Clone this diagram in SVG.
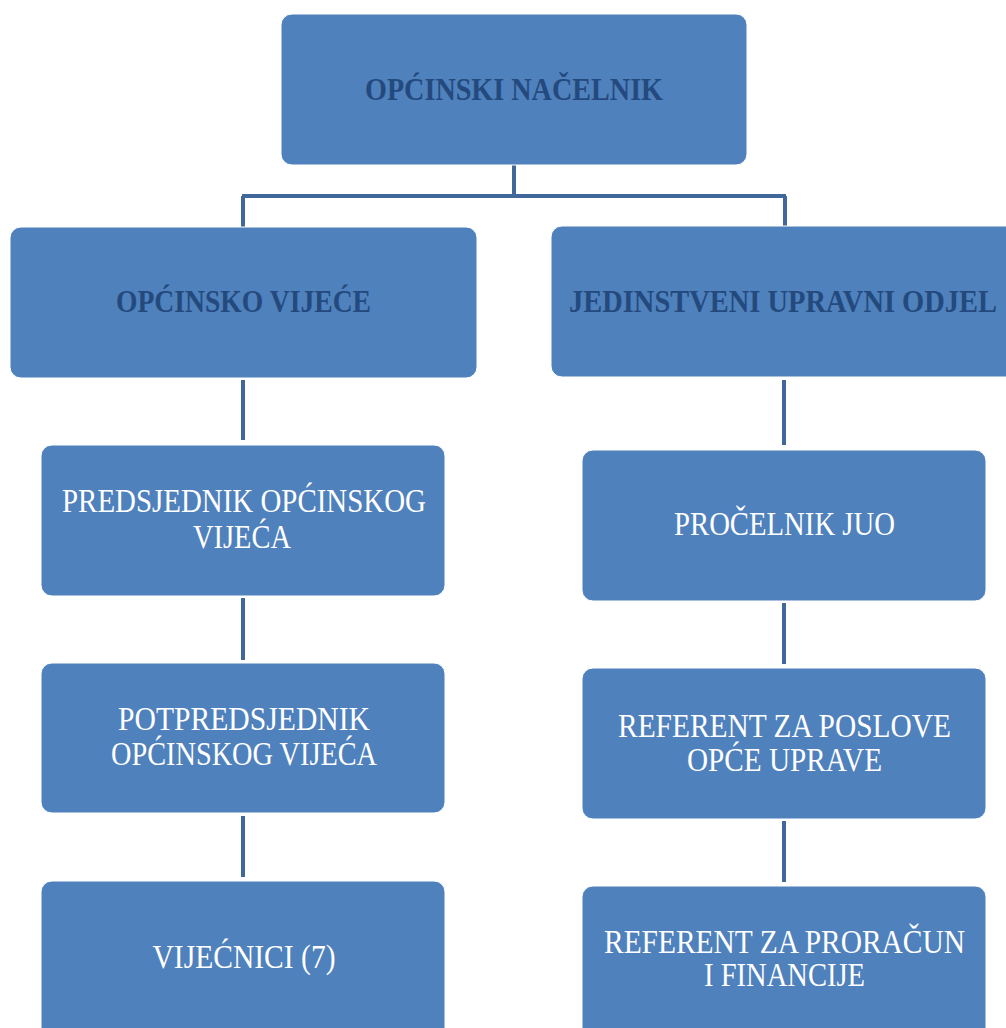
<svg xmlns="http://www.w3.org/2000/svg" width="1006" height="1028" viewBox="0 0 1006 1028">
<style>
.box{fill:#4f81bd;stroke:#ffffff;stroke-width:1}
.hd{font-family:"Liberation Serif",serif;font-weight:bold;font-size:32px;fill:#244a7d;text-anchor:middle}
.tx{font-family:"Liberation Serif",serif;font-size:33px;fill:#ffffff;text-anchor:middle}
.ln{fill:none;stroke:#41689a;stroke-width:4}
</style>
<rect width="1006" height="1028" fill="#ffffff"/>
<g id="connectors">
<path class="ln" d="M514 165 V196 M242 196 H786 M243 196 V227 M785 196 V227"/>
<path class="ln" d="M243 380 V440 M243 598 V660 M243 816 V877"/>
<path class="ln" d="M784 380 V445 M784 603 V664 M784 821 V882"/>
</g>
<g id="n1"><rect class="box" x="281" y="14" width="466" height="151" rx="11"/><text class="hd" x="514" y="100" textLength="298" lengthAdjust="spacingAndGlyphs">OPĆINSKI NAČELNIK</text></g>
<g id="n2"><rect class="box" x="10" y="227" width="467" height="151" rx="11"/><text class="hd" x="243.5" y="312" textLength="255" lengthAdjust="spacingAndGlyphs">OPĆINSKO VIJEĆE</text></g>
<g id="n3"><rect class="box" x="551" y="226" width="470" height="151" rx="11"/><text class="hd" x="783" y="312" textLength="428" lengthAdjust="spacingAndGlyphs">JEDINSTVENI UPRAVNI ODJEL</text></g>
<g id="n4"><rect class="box" x="41" y="445" width="404" height="151" rx="11"/><text class="tx" x="244" y="512" textLength="364" lengthAdjust="spacingAndGlyphs">PREDSJEDNIK OPĆINSKOG</text><text class="tx" x="242" y="548" textLength="98" lengthAdjust="spacingAndGlyphs">VIJEĆA</text></g>
<g id="n5"><rect class="box" x="41" y="663" width="404" height="150" rx="11"/><text class="tx" x="244" y="730" textLength="252" lengthAdjust="spacingAndGlyphs">POTPREDSJEDNIK</text><text class="tx" x="244" y="765" textLength="266" lengthAdjust="spacingAndGlyphs">OPĆINSKOG VIJEĆA</text></g>
<g id="n6"><rect class="box" x="41" y="881" width="404" height="160" rx="11"/><text class="tx" x="244" y="968" textLength="183" lengthAdjust="spacingAndGlyphs">VIJEĆNICI (7)</text></g>
<g id="n7"><rect class="box" x="582" y="450" width="404" height="151" rx="11"/><text class="tx" x="784.5" y="535" textLength="221" lengthAdjust="spacingAndGlyphs">PROČELNIK JUO</text></g>
<g id="n8"><rect class="box" x="582" y="668" width="404" height="151" rx="11"/><text class="tx" x="784.5" y="737" textLength="333" lengthAdjust="spacingAndGlyphs">REFERENT ZA POSLOVE</text><text class="tx" x="784.5" y="771" textLength="195" lengthAdjust="spacingAndGlyphs">OPĆE UPRAVE</text></g>
<g id="n9"><rect class="box" x="582" y="886" width="404" height="160" rx="11"/><text class="tx" x="784.5" y="953" textLength="361" lengthAdjust="spacingAndGlyphs">REFERENT ZA PRORAČUN</text><text class="tx" x="784.5" y="986" textLength="161" lengthAdjust="spacingAndGlyphs">I FINANCIJE</text></g>
</svg>
